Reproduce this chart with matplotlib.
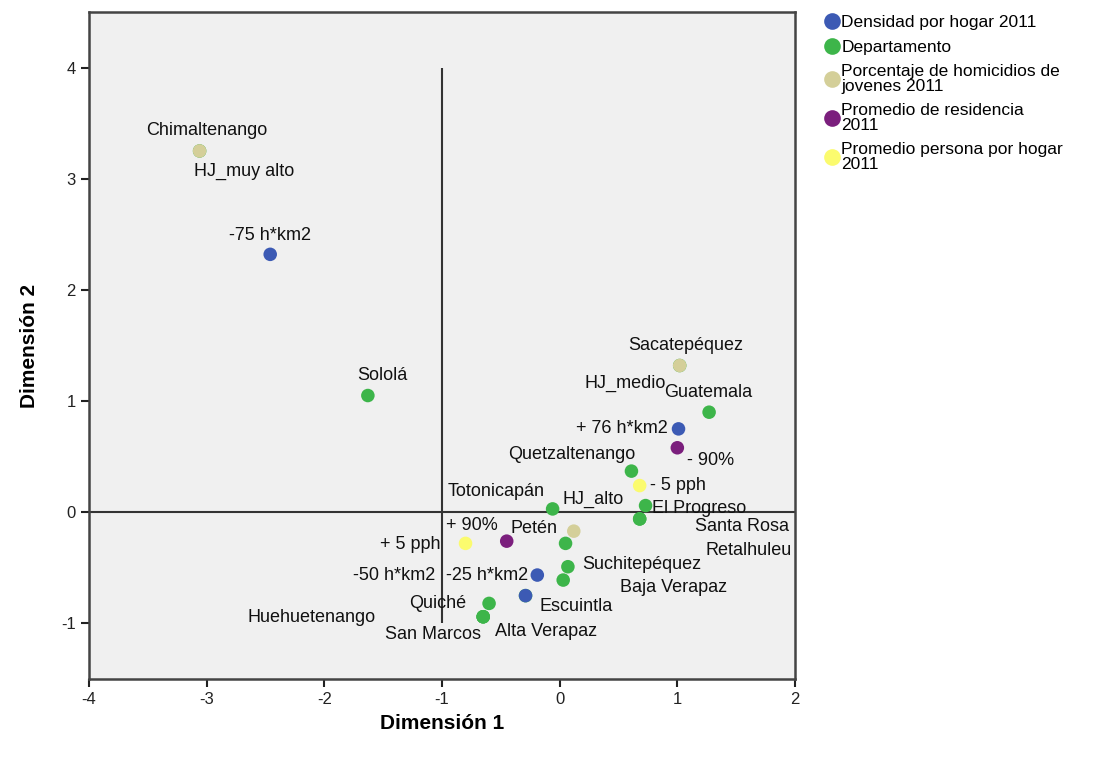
import matplotlib
matplotlib.use("Agg")
import matplotlib.pyplot as plt
from matplotlib.lines import Line2D

plt.rcParams['font.family'] = ['Liberation Sans', 'DejaVu Sans']
plt.rcParams['axes.unicode_minus'] = False

# --- datos: puntos de categoria (Dimension 1, Dimension 2) ---
dept_names = ["Chimaltenango", "Sololá", "Sacatepéquez", "Guatemala", "Quetzaltenango",
              "Totonicapán", "El Progreso", "Santa Rosa", "Retalhuleu", "Petén",
              "Suchitepéquez", "Baja Verapaz", "Escuintla", "Quiché",
              "Huehuetenango", "San Marcos", "Alta Verapaz"]
dept_d1 = [-3.06, -1.63, 1.02, 1.27, 0.61, -0.06, 0.73, 0.68, 0.68, 0.05,
           0.07, 0.03, -0.29, -0.60, -0.65, -0.65, -0.65]
dept_d2 = [3.25, 1.05, 1.32, 0.90, 0.37, 0.03, 0.06, -0.06, -0.06, -0.28,
           -0.49, -0.61, -0.75, -0.82, -0.94, -0.94, -0.94]

dens_names = ["-75 h*km2", "+ 76 h*km2", "-25 h*km2", "-50 h*km2"]
dens_d1 = [-2.46, 1.01, -0.19, -0.29]
dens_d2 = [2.32, 0.75, -0.565, -0.75]

hom_names = ["HJ_muy alto", "HJ_medio", "HJ_alto"]
hom_d1 = [-3.06, 1.02, 0.12]
hom_d2 = [3.25, 1.32, -0.17]

res_names = ["- 90%", "+ 90%"]
res_d1 = [1.00, -0.45]
res_d2 = [0.58, -0.26]

pph_names = ["- 5 pph", "+ 5 pph"]
pph_d1 = [0.68, -0.80]
pph_d2 = [0.24, -0.28]

# desplazamiento de etiquetas (pixeles, centro del texto respecto al punto)
dept_off = [(7, 20), (14, 20), (6, 20), (-1, 20), (-60, 17), (-56, 17), (54, -3),
            (102, -8), (109, -32), (-32, 15), (74, 2), (110, -7), (51, -11),
            (-51, 0), (-172, -1), (-50, -18), (63, -15)]
dens_off = [(0, 19), (-57, 0), (-50, 0), (-131, 20)]
hom_off = [(45, -20), (-54, -18), (19, 32)]
res_off = [(33, -13), (-35, 16)]
pph_off = [(38, 0), (-55, -1)]

c_blue, c_green, c_tan, c_purple, c_yellow = "#3c5ab4", "#3db54a", "#d4cf99", "#7b1f7d", "#fbfb6e"

fig = plt.figure(figsize=(11.04, 7.57), dpi=100)
ax = fig.add_axes([89/1104, 1 - 679/757, 706/1104, 667/757])
ax.set_facecolor("#f0f0f0")

ax.axhline(0, color="#333333", lw=1.5, zorder=1)
ax.vlines(-1, -1, 4, color="#333333", lw=1.5, zorder=1)

groups = [
    (dept_d1, dept_d2, dept_names, dept_off, c_green),
    (dens_d1, dens_d2, dens_names, dens_off, c_blue),
    (hom_d1, hom_d2, hom_names, hom_off, c_tan),
    (res_d1, res_d2, res_names, res_off, c_purple),
    (pph_d1, pph_d2, pph_names, pph_off, c_yellow),
]
for xs, ys, names, offs, col in groups:
    ax.scatter(xs, ys, s=95, color=col, edgecolors="none", zorder=3)
    for x, y, name, off in zip(xs, ys, names, offs):
        ax.annotate(name, (x, y), xytext=off, textcoords="offset pixels",
                    ha="center", va="center", fontsize=13, color="#111111", zorder=4)

ax.set_xlim(-4, 2)
ax.set_ylim(-1.5, 4.5)
ax.set_xticks(range(-4, 3))
ax.set_yticks(range(-1, 5))
for s in ax.spines.values():
    s.set_color("#444444")
    s.set_linewidth(1.8)
ax.tick_params(direction="out", length=6, width=1.5, labelsize=12, colors="#222222")

ax.set_xlabel("Dimensión 1", fontsize=15, fontweight="bold", labelpad=5)
ax.set_ylabel("Dimensión 2", fontsize=15, fontweight="bold", labelpad=16)

legend_labels = ["Densidad por hogar 2011", "Departamento",
                 "Porcentaje de homicidios de\njovenes 2011",
                 "Promedio de residencia\n2011", "Promedio persona por hogar\n2011"]
legend_cols = [c_blue, c_green, c_tan, c_purple, c_yellow]
handles = [Line2D([], [], marker="o", ls="", markersize=12, color=c, markeredgewidth=0)
           for c in legend_cols]
leg = fig.legend(handles, legend_labels, loc="upper left",
                 bbox_to_anchor=(818/1104, 1 - 8/757), frameon=False, fontsize=12.5,
                 handlelength=0.8, handletextpad=0.15, labelspacing=0.55, borderaxespad=0)
for t in leg.get_texts():
    t.set_linespacing(0.95)

fig.savefig("out.png", dpi=100)
